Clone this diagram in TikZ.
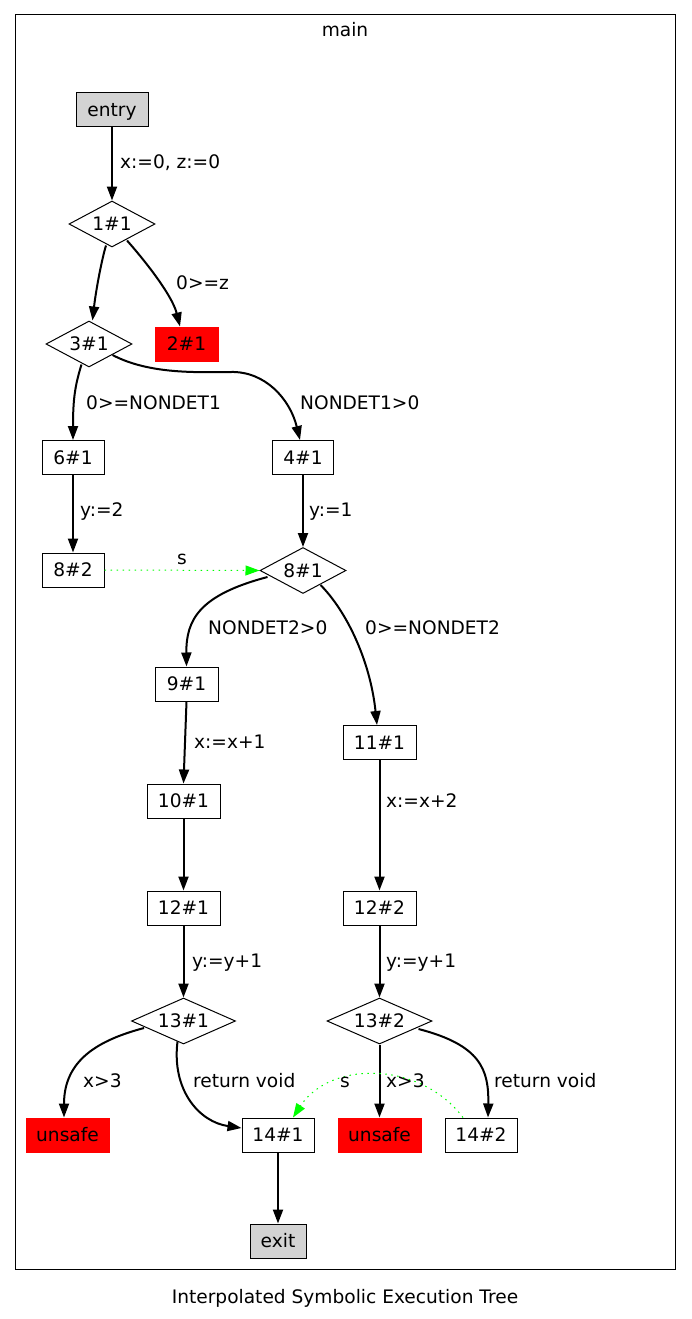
\documentclass[tikz,border=0pt]{standalone}
\usepackage{fontspec}
\setmainfont{DejaVu Sans}
\usetikzlibrary{shapes.geometric,arrows.meta,calc}
\definecolor{gvred}{HTML}{FF0000}
\definecolor{gvgray}{HTML}{D3D3D3}
\definecolor{gvgreen}{HTML}{00FF00}
\begin{document}
\begin{tikzpicture}[x=1pt,y=-1pt,
  every node/.style={font=\fontsize{18.6}{21}\selectfont,text height=13pt,text depth=0pt},
  bx/.style={draw=black,line width=1pt,inner sep=0pt,minimum height=34pt},
  graybx/.style={bx,fill=gvgray},
  redbx/.style={draw=gvred,fill=gvred,line width=1pt,inner sep=0pt,minimum height=34pt},
  cond/.style={diamond,draw=black,line width=1pt,aspect=2,inner sep=0pt,minimum width=86pt,minimum height=46pt},
  flow/.style={line width=2pt,-{Triangle[length=14pt,width=10pt]}},
  sflow/.style={draw=gvgreen,line width=1pt,dash pattern=on 1.5pt off 4.5pt,-{Triangle[length=14pt,width=10pt,fill=gvgreen]}},
  lbl/.style={anchor=west,inner sep=0pt}]
\useasboundingbox (0,0) rectangle (691,1319);
\draw[line width=1pt] (15,15) rectangle (675,1269);
\node (title) at (345,30) {main};
\node (caption) at (345,1297) {Interpolated Symbolic Execution Tree};

% nodes
\node[graybx,minimum width=72pt] (entry) at (112,110) {entry};
\node[cond] (n11) at (112,224) {1\#1};
\node[redbx,minimum width=63pt] (n21) at (186.5,344) {2\#1};
\node[cond] (n31) at (89,344) {3\#1};
\node[bx,minimum width=62pt] (n61) at (73,457.5) {6\#1};
\node[bx,minimum width=61pt] (n41) at (303,457.5) {4\#1};
\node[bx,minimum width=62pt] (n82) at (73,570) {8\#2};
\node[cond] (n81) at (303,570.5) {8\#1};
\node[bx,minimum width=63pt] (n91) at (186.5,684) {9\#1};
\node[bx,minimum width=73pt] (n111) at (379.5,742.5) {11\#1};
\node[bx,minimum width=73pt] (n101) at (183.5,801) {10\#1};
\node[bx,minimum width=73pt] (n121) at (183.5,908) {12\#1};
\node[bx,minimum width=73pt] (n122) at (379.5,908) {12\#2};
\node[cond,minimum width=104pt] (n131) at (183.5,1021) {13\#1};
\node[cond,minimum width=105pt] (n132) at (379.5,1021) {13\#2};
\node[redbx,minimum width=83pt] (u1) at (67.5,1135) {unsafe};
\node[bx,minimum width=72pt] (n141) at (278,1135) {14\#1};
\node[redbx,minimum width=83pt] (u2) at (379.5,1135) {unsafe};
\node[bx,minimum width=72pt] (n142) at (481,1135) {14\#2};
\node[graybx,minimum width=56pt] (exit) at (278,1241) {exit};

% edges
\draw[flow] (entry.south) -- (n11.north);
\node[lbl] (l1) at (120,162) {x:=0, z:=0};

\draw[flow] ($(n11.south)+(-6,-2)$) .. controls ($(n11.south)+(-10,11)$) and ($(n31.north)+(7,-31)$) .. ($(n31.north)+(3.5,0)$);

\draw[flow] ($(n11.south)+(15,-7)$) .. controls ($(n11.south)+(31,11)$) and ($(n21.north)+(-14.5,-32)$) .. ($(n21.north)+(-6.5,0)$);
\node[lbl] (l2) at (176,283) {0>=z};

\draw[flow] ($(n31.south)+(-7.5,-3)$) .. controls ($(n31.south)+(-14,18)$) and ($(n61.north)+(0,-41)$) .. (n61.north);
\node[lbl] (l3) at (86,403) {0>=NONDET1};

\draw[flow] ($(n31.east)+(-20,11)$) .. controls ($(n31.east)+(18,31)$) and ($(n31.east)+(68,28)$) .. ($(n31.east)+(98,28)$)
  .. controls ($(n41.north)+(-38,-69)$) and ($(n41.north)+(-13,-41)$) .. ($(n41.north)+(-3,0)$);
\node[lbl] (l4) at (300,403) {NONDET1>0};

\draw[flow] (n61.south) -- (n82.north);
\node[lbl] (l5) at (80,510) {y:=2};
\draw[flow] (n41.south) -- (n81.north);
\node[lbl] (l6) at (309,510) {y:=1};

\draw[sflow] (n82.east) -- (n81.west);
\node (l7) at (182,558) {s};

\draw[flow] ($(n81.west)+(8,6.5)$) .. controls ($(n81.west)+(-60,24.5)$) and ($(n91.north)+(-0.5,-47)$) .. (n91.north);
\node[lbl] (l8) at (208,628) {NONDET2>0};

\draw[flow] ($(n81.east)+(-26,14.5)$) .. controls ($(n81.east)+(-1,39.5)$) and ($(n111.north)+(-9.5,-66)$) .. ($(n111.north)+(-2.5,0)$);
\node[lbl] (l9) at (365,628) {0>=NONDET2};

\draw[flow] (n91.south) -- (n101.north);
\node[lbl] (l10) at (194,742) {x:=x+1};
\draw[flow] (n111.south) -- (n122.north);
\node[lbl] (l11) at (386,801) {x:=x+2};
\draw[flow] (n101.south) -- (n121.north);
\draw[flow] (n121.south) -- (n131.north);
\node[lbl] (l12) at (192,961) {y:=y+1};
\draw[flow] (n122.south) -- (n132.north);
\node[lbl] (l13) at (386,961) {y:=y+1};

\draw[flow] ($(n131.west)+(13,7)$) .. controls ($(n131.west)+(-32,19)$) and ($(u1.north)+(-3.5,-58)$) .. ($(u1.north)+(-3.5,0)$);
\node[lbl] (l14) at (83,1081) {x>3};

\draw[flow] ($(n131.south)+(-6,-3)$) .. controls ($(n131.south)+(-12,46)$) and ($(n141.west)+(-42,-13)$) .. ($(n141.west)+(0,-7)$);
\node[lbl] (l15) at (193,1081) {return void};

\draw[flow] (n132.south) -- (u2.north);
\node[lbl] (l16) at (386,1081) {x>3};

\draw[flow] ($(n132.east)+(-14,8)$) .. controls ($(n132.east)+(48,24)$) and ($(n142.north)+(8,-48)$) .. ($(n142.north)+(7,0)$);
\node[lbl] (l17) at (494,1081) {return void};

\draw[sflow] ($(n142.north)+(-18,0)$) .. controls ($(n142.north)+(-61,-57)$) and ($(n141.north)+(52,-57)$) .. ($(n141.north)+(15,0)$);
\node[lbl] (l18) at (340,1081) {s};

\draw[flow] (n141.south) -- (exit.north);
\end{tikzpicture}
\end{document}
